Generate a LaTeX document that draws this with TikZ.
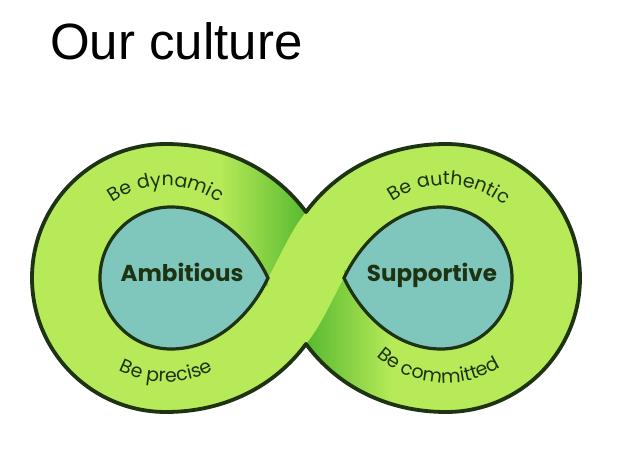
\documentclass[tikz,border=0pt]{standalone}
\usepackage{fontspec}
\setmainfont{Liberation Sans}
\newfontfamily\pop{Poppins}
\usetikzlibrary{decorations.text}
\definecolor{lgreen}{HTML}{B6EA58}
\definecolor{dgreen}{HTML}{58BA30}
\definecolor{tealfill}{HTML}{7FC6BD}
\definecolor{ink}{HTML}{1E3311}
\newcommand\infpath{(306,244) .. controls (275,286) and (225,312) .. (166,312) .. controls (92,312) and (32,252) .. (32,178) .. controls (32,104) and (92,44) .. (166,44) .. controls (225,44) and (275,70) .. (306,112) .. controls (337,70) and (387,44) .. (446,44) .. controls (520,44) and (580,104) .. (580,178) .. controls (580,252) and (520,312) .. (446,312) .. controls (387,312) and (337,286) .. (306,244) -- cycle}
\tikzset{
  outline/.style={draw=ink, line width=3.8pt, line join=round},
  drop/.style={draw=ink, line width=3.2pt, fill=tealfill},
  core/.style={font=\pop\bfseries\fontsize{23}{23}\selectfont, text=ink, anchor=base, inner sep=0pt},
  arctext/.style={decorate, decoration={text along path, text align=center, text={|\pop\fontsize{19}{19}\selectfont\color{ink}|#1}}}
}
\begin{document}
\begin{tikzpicture}[x=1pt,y=1pt]
\useasboundingbox (0,0) rectangle (637,456);
\fill[white] (0,0) rectangle (637,456);
\node[anchor=base west, font=\fontsize{51}{51}\selectfont, inner sep=0pt] (title) at (50,396) {Our culture};
\fill[lgreen] \infpath;
\begin{scope}
  \clip \infpath;
  \shade[left color=lgreen, right color=dgreen] (306,244) .. controls (292,228) and (280,200) .. (268,178) -- (268,170) -- (220,170) -- (220,330) -- (306,330) -- cycle;
  \shade[left color=dgreen, right color=lgreen] (306,112) .. controls (320,128) and (332,156) .. (344,178) -- (344,186) -- (392,186) -- (392,26) -- (306,26) -- cycle;
\end{scope}
\draw[outline] \infpath;
\draw[drop] (268,178) .. controls (250,216) and (215,249) .. (171,249) .. controls (132,249) and (100,217) .. (100,178) .. controls (100,139) and (132,107) .. (171,107) .. controls (215,107) and (250,140) .. (268,178) -- cycle;
\draw[drop] (344,178) .. controls (362,140) and (397,107) .. (441,107) .. controls (480,107) and (512,139) .. (512,178) .. controls (512,217) and (480,249) .. (441,249) .. controls (397,249) and (362,216) .. (344,178) -- cycle;
\node[core] (amb) at (182,174.5) {Ambitious};
\node[core] (sup) at (432,174.5) {Supportive};
\path[arctext={Be dynamic}] (166,178) ++(150:92) arc[start angle=150, end angle=30, radius=92];
\path[arctext={Be precise}] (166,178) ++(205:104) arc[start angle=205, end angle=335, radius=104];
\path[arctext={Be authentic}] (446,178) ++(148:93) arc[start angle=148, end angle=28, radius=93];
\path[arctext={Be committed}] (446,178) ++(203:105) arc[start angle=203, end angle=327, radius=105];
\end{tikzpicture}
\end{document}
